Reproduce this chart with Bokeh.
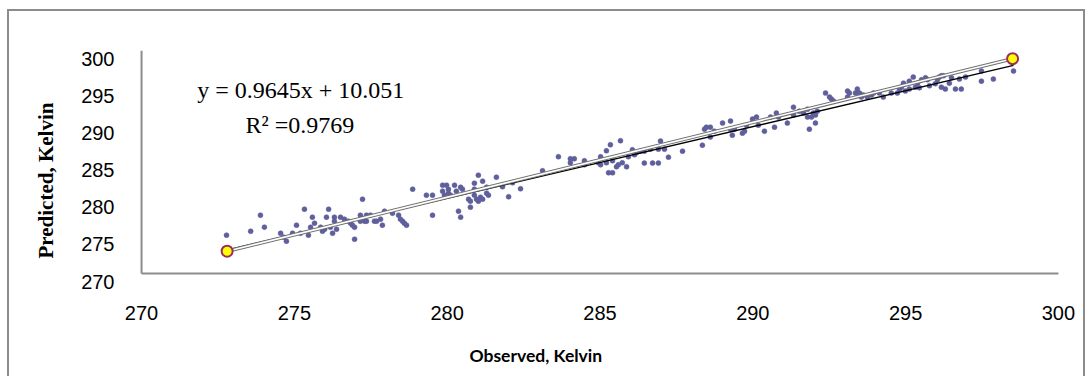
import numpy as np
from bokeh.plotting import figure
from bokeh.models import Range1d, FixedTicker, LinearAxis, Title
from bokeh.models import Label
from bokeh.embed import file_html
from bokeh.resources import INLINE

# ---------------- data ----------------
observed = [
    272.78, 273.57, 273.89, 274.02, 274.55, 274.65, 274.74, 274.94, 275.07, 275.20,
    275.33, 275.46, 275.53, 275.59, 275.66, 275.86, 275.92, 275.99, 276.05, 276.12,
    276.18, 276.25, 276.31, 276.31, 276.38, 276.51, 276.64, 276.77, 276.84, 276.90,
    276.97, 276.97, 277.16, 277.16, 277.23, 277.30, 277.36, 277.36, 277.49, 277.62,
    277.69, 277.82, 277.88, 277.95, 278.21, 278.41, 278.47, 278.54, 278.60, 278.67,
    278.87, 279.32, 279.52, 279.52, 279.85, 279.98, 279.85, 279.91, 280.04, 280.04,
    280.11, 280.24, 280.30, 280.44, 280.50, 280.37, 280.44, 280.70, 280.76, 280.76,
    280.89, 280.89, 280.89, 280.96, 281.02, 281.02, 281.09, 281.16, 281.16, 281.29,
    281.29, 281.35, 281.61, 281.81, 282.01, 282.14, 282.40, 283.12, 283.64, 284.03,
    284.16, 284.03, 284.49, 284.49, 284.95, 285.02, 285.02, 285.21, 285.21, 285.28,
    285.34, 285.41, 285.41, 285.54, 285.60, 285.67, 285.73, 285.87, 285.93, 286.06,
    286.13, 286.19, 286.32, 286.45, 286.45, 286.65, 286.72, 286.91, 286.91, 286.98,
    287.11, 287.24, 287.70, 288.35, 288.42, 288.48, 288.61, 288.61, 288.74, 289.01,
    289.27, 289.27, 289.33, 289.40, 289.66, 289.73, 289.79, 289.99, 290.12, 290.18,
    290.38, 290.58, 290.71, 290.77, 290.84, 291.13, 291.33, 291.33, 291.52, 291.66,
    291.79, 291.79, 291.85, 291.92, 291.98, 292.05, 292.05, 292.11, 292.38, 292.51,
    292.57, 292.64, 293.10, 293.16, 293.10, 293.42, 293.36, 293.49, 293.55, 293.55,
    293.62, 293.75, 293.88, 293.95, 294.14, 294.27, 294.53, 294.73, 294.80, 294.86,
    294.93, 294.99, 295.12, 295.12, 295.25, 295.32, 295.39, 295.45, 295.52, 295.65,
    295.71, 295.78, 295.97, 296.04, 296.10, 296.17, 296.24, 296.17, 296.30, 296.43,
    296.50, 296.63, 296.76, 296.82, 296.96, 297.48, 297.48, 297.87, 298.53,
]
predicted = [
    275.16, 275.69, 277.85, 276.23, 275.42, 274.89, 274.35, 275.42, 276.50, 275.42,
    278.65, 275.16, 276.23, 277.58, 276.77, 276.23, 275.69, 275.96, 277.58, 278.65,
    276.23, 275.42, 277.58, 277.04, 275.96, 277.58, 277.31, 277.04, 276.77, 276.50,
    274.62, 276.23, 277.85, 277.04, 280.00, 277.04, 277.85, 277.04, 277.85, 277.04,
    277.04, 277.31, 276.50, 278.39, 278.12, 277.85, 277.31, 277.04, 276.77, 276.50,
    281.35, 280.54, 280.54, 277.85, 281.88, 281.88, 281.08, 280.54, 281.35, 280.81,
    280.54, 281.88, 281.08, 281.61, 281.35, 278.39, 277.58, 280.00, 279.73, 278.92,
    282.15, 281.35, 280.54, 280.00, 283.23, 279.73, 280.27, 282.42, 280.00, 281.61,
    280.81, 280.54, 282.96, 281.67, 280.32, 282.21, 281.40, 283.82, 285.71, 285.44,
    285.44, 284.90, 285.17, 284.63, 284.90, 285.71, 284.63, 286.51, 284.90, 283.55,
    287.32, 283.55, 285.17, 284.36, 284.63, 287.86, 284.90, 284.36, 285.71, 286.65,
    285.98, 286.25, 286.46, 286.46, 284.85, 286.73, 284.85, 284.85, 286.73, 287.81,
    286.73, 285.65, 286.46, 287.27, 289.42, 289.69, 289.69, 288.35, 289.15, 290.23,
    290.50, 289.42, 288.61, 289.42, 288.88, 289.15, 289.96, 290.77, 291.04, 289.96,
    289.15, 291.04, 289.69, 291.58, 291.04, 290.23, 292.38, 291.31, 291.84, 291.58,
    292.11, 291.04, 289.42, 291.04, 291.58, 291.31, 290.23, 291.84, 294.27, 293.73,
    293.46, 293.19, 294.54, 294.27, 293.73, 294.81, 294.27, 294.27, 294.00, 293.73,
    294.00, 293.73, 294.00, 294.27, 294.27, 293.73, 294.27, 294.27, 294.81, 295.07,
    295.61, 294.54, 294.81, 295.88, 296.42, 295.07, 295.61, 294.99, 296.07, 296.34,
    296.07, 295.26, 295.53, 296.07, 296.42, 296.61, 296.61, 295.07, 294.81, 295.61,
    296.34, 294.81, 296.15, 294.81, 296.42, 297.23, 295.88, 296.15, 297.23,
]
end_observed = [272.8, 298.5]
end_predicted = [273.0, 298.9]
slope = 0.9645
intercept = 10.051
r_squared = 0.9769
x_ticks = [270, 275, 280, 285, 290, 295, 300]
y_ticks = [270, 275, 280, 285, 290, 295, 300]
x_title = "Observed, Kelvin"
y_title = "Predicted, Kelvin"

# ---------------- layout constants ----------------
AXIS_GRAY = "#8c8c8c"
FRAME_H = 231          # plot area incl. an 8px strip below the x axis line
PX_PER_Y = 223 / 30.0
LABEL_DROP = 8 / PX_PER_Y   # y tick labels sit 8px below their ticks

y0 = y_ticks[0] - LABEL_DROP
p = figure(
    frame_width=923, frame_height=FRAME_H,
    min_border_left=129, min_border_right=22, min_border_top=39, min_border_bottom=90,
    x_range=Range1d(x_ticks[0] - 0.1, x_ticks[-1] + 0.1),
    y_range=Range1d(y0, y_ticks[-1]),
    y_axis_location=None,
    output_backend="svg", toolbar_location=None, tools="",
)
p.styles = {"margin-left": "7px", "margin-top": "9px",
            "border-top": "2px solid #8c8c8c", "border-left": "2px solid #8c8c8c",
            "border-right": "2px solid #8c8c8c"}
p.background_fill_color = "white"
p.border_fill_color = "white"
p.outline_line_color = None
p.grid.visible = False
p.title.visible = False

# x axis (labels only; the line is drawn at y = 270 below)
p.xaxis.ticker = FixedTicker(ticks=x_ticks)
p.xaxis.axis_line_color = None
p.xaxis.major_tick_line_color = None
p.xaxis.minor_tick_line_color = None
p.xaxis.major_label_text_font = "Liberation Sans"
p.xaxis.major_label_text_font_size = "20px"
p.xaxis.major_label_text_color = "black"
p.xaxis.major_label_standoff = 18

# y axis labels on a range shifted so they sit 8px lower than their ticks
p.extra_y_ranges = {"labels": Range1d(y_ticks[0], y_ticks[-1] + LABEL_DROP)}
yax = LinearAxis(y_range_name="labels", ticker=FixedTicker(ticks=y_ticks),
                 axis_line_color=None, major_tick_line_color=None,
                 minor_tick_line_color=None, major_label_standoff=18,
                 major_label_text_font="Liberation Sans",
                 major_label_text_font_size="20px", major_label_text_color="black")
p.add_layout(yax, "left")

# axis lines
p.segment(x0=[x_ticks[0], x_ticks[0]], y0=[y_ticks[0], y_ticks[0]],
          x1=[x_ticks[-1], x_ticks[0]], y1=[y_ticks[0], y_ticks[-1]],
          line_color=AXIS_GRAY, line_width=2)

# scatter points
p.scatter(observed, predicted, size=5, fill_color="#5f5f9c", line_color="#5f5f9c",
          line_width=0.5)

# trend line
tx = np.array([min(observed), max(observed)])
p.line(tx, slope * tx + intercept, line_color="black", line_width=1.3)

# endpoint series (double line with yellow markers)
p.line(end_observed, end_predicted, line_color="#707070", line_width=3.5)
p.line(end_observed, end_predicted, line_color="white", line_width=1.5)
p.scatter(end_observed, end_predicted, size=11, fill_color="#FFFF00",
          line_color="#9b2d5e", line_width=2)

# equation annotations (inside the plot area)
p.add_layout(Label(x=271.82, y=294.63, text=f"y = {slope}x + {intercept}",
                   text_font="Liberation Serif", text_font_size="24px",
                   text_baseline="alphabetic", text_align="left", text_color="black"))
p.add_layout(Label(x=273.40, y=289.92, text=f"R\u00b2  ={r_squared}",
                   text_font="Liberation Serif", text_font_size="24px",
                   text_baseline="alphabetic", text_align="left", text_color="black"))

# axis titles
p.add_layout(Title(text=y_title, align="left", offset=23, standoff=42,
                   text_font="Liberation Serif", text_font_style="bold",
                   text_font_size="21px", text_color="black"), "left")
p.add_layout(Title(text=x_title, align="left", offset=331, standoff=40,
                   text_font="Lato", text_font_style="bold",
                   text_font_size="17.5px", text_color="black"), "below")

open("out.html", "w").write(file_html(p, INLINE))
